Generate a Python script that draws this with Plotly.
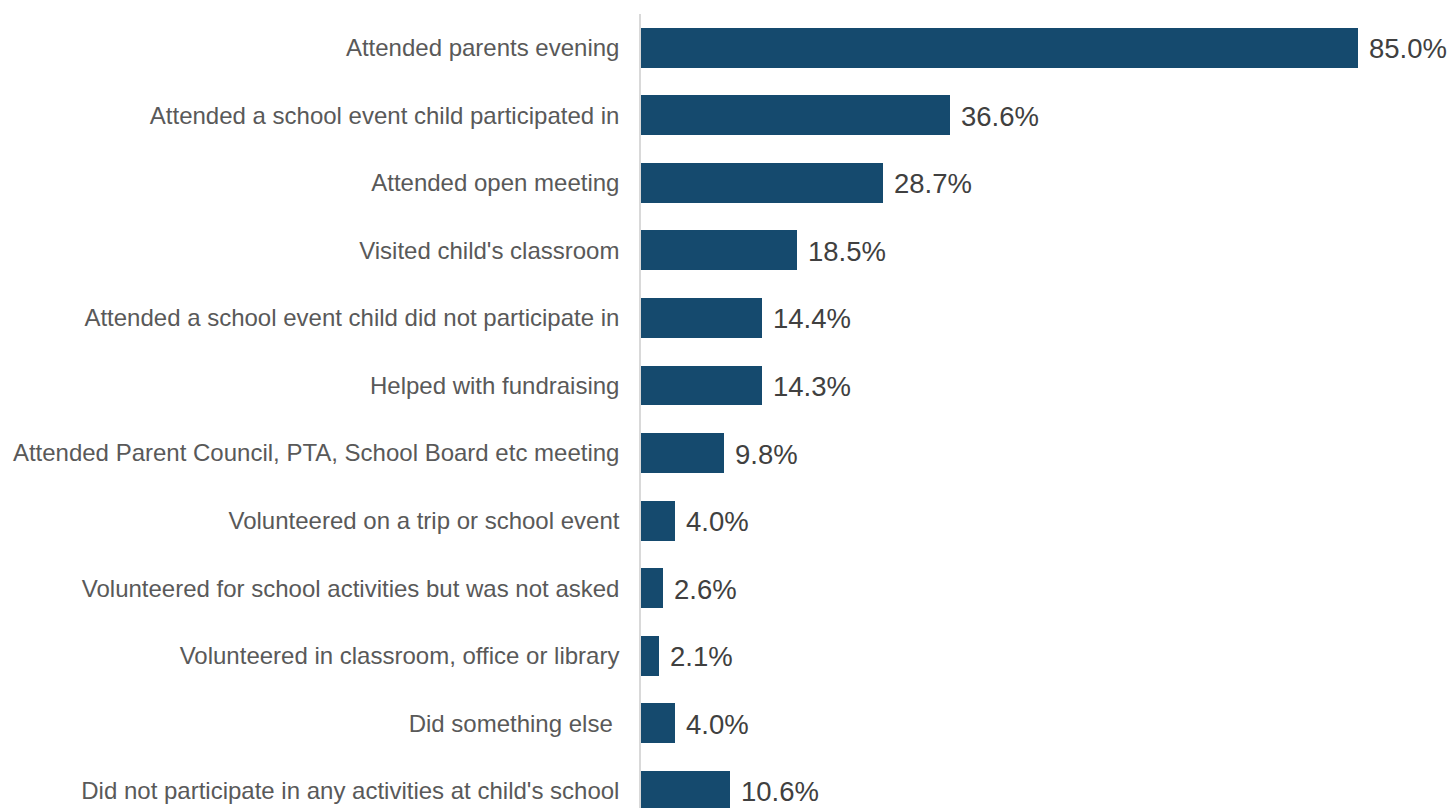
import plotly.graph_objects as go

categories = [
    "Attended parents evening",
    "Attended a school event child participated in",
    "Attended open meeting",
    "Visited child's classroom",
    "Attended a school event child did not participate in",
    "Helped with fundraising",
    "Attended Parent Council, PTA, School Board etc meeting",
    "Volunteered on a trip or school event",
    "Volunteered for school activities but was not asked",
    "Volunteered in classroom, office or library",
    "Did something else\u00a0",
    "Did not participate in any activities at child's school",
]
values = [85.0, 36.6, 28.7, 18.5, 14.4, 14.3, 9.8, 4.0, 2.6, 2.1, 4.0, 10.6]
value_labels = [f"{v:.1f}%" for v in values]

BAR_COLOR = "#154a6e"

fig = go.Figure(
    go.Bar(
        x=values,
        y=categories,
        orientation="h",
        marker=dict(color=BAR_COLOR, line=dict(width=0)),
        width=0.59,
        hoverinfo="skip",
    )
)

for cat, v, lab in zip(categories, values, value_labels):
    fig.add_annotation(
        x=v, y=cat, text=lab, showarrow=False,
        xanchor="left", yanchor="middle", xshift=9, yshift=-1,
        font=dict(family="Liberation Sans, Arial, sans-serif", size=27.5, color="#404040"),
    )

fig.update_layout(
    width=1448,
    height=808,
    margin=dict(l=641, r=6, t=14, b=0),
    paper_bgcolor="white",
    plot_bgcolor="white",
    showlegend=False,
    bargap=0,
    xaxis=dict(
        range=[0, 95],
        visible=False,
        showgrid=False,
        zeroline=False,
    ),
    yaxis=dict(
        type="category",
        categoryorder="array",
        categoryarray=categories,
        range=[11.255, -0.5],
        showgrid=False,
        zeroline=False,
        showline=True,
        linecolor="#d9d9d9",
        linewidth=1.5,
        ticks="",
        ticklabelstandoff=15,
        tickfont=dict(family="Liberation Sans, Arial, sans-serif", size=24, color="#595959"),
    ),
)

fig.write_html("out.html")
